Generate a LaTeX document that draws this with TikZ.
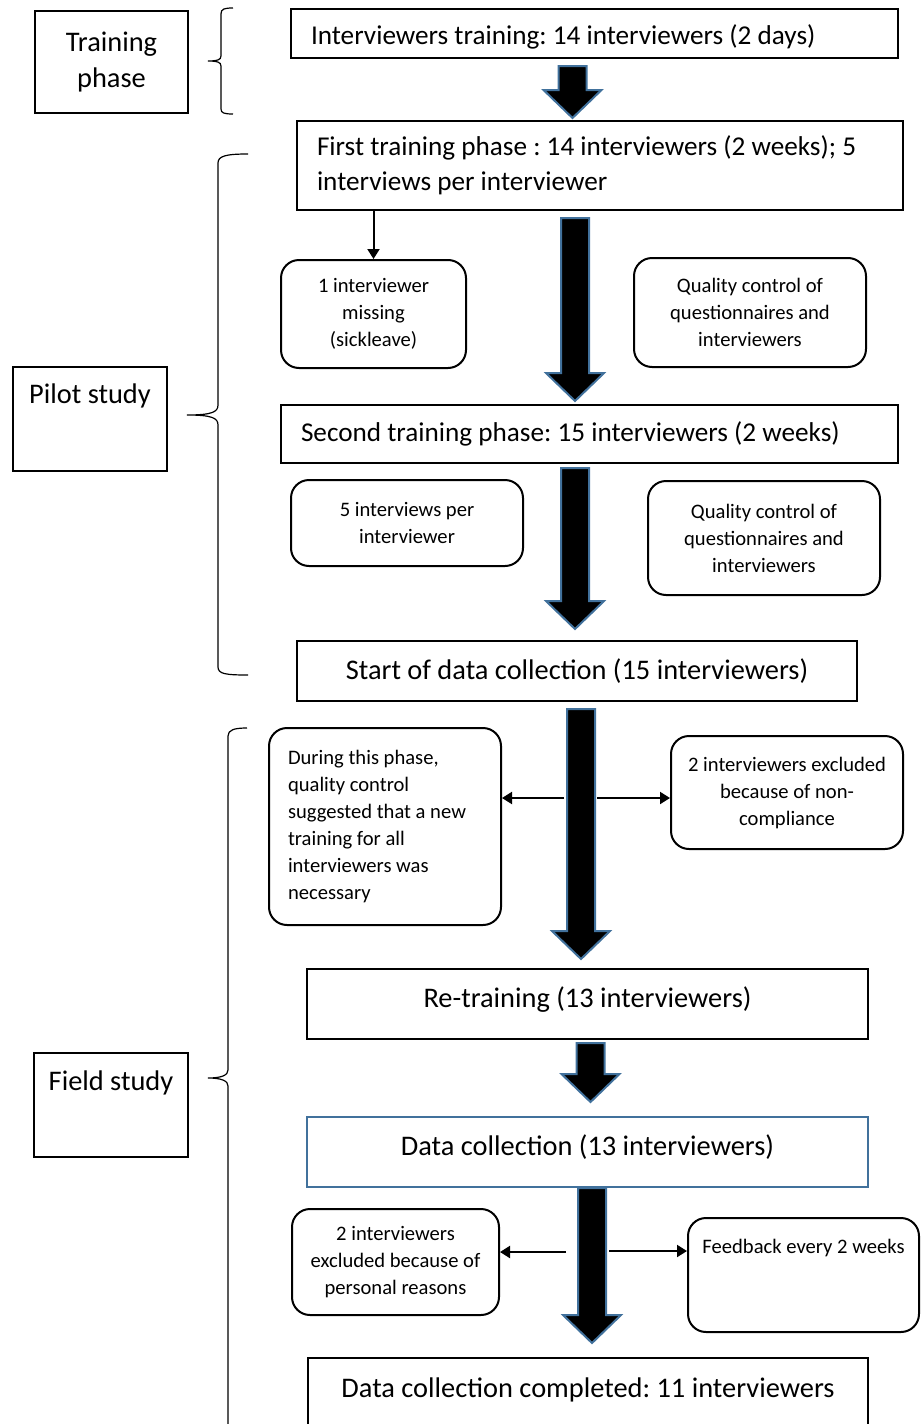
\documentclass[tikz,border=0pt]{standalone}
\usepackage{fontspec}
\setmainfont{Carlito}
\frenchspacing
\usetikzlibrary{arrows.meta}
\usetikzlibrary{calc}
\definecolor{rahmenblau}{RGB}{65,113,156}

\begin{document}
\begin{tikzpicture}[x=0.5pt, y=-0.5pt, % 1 Einheit = 1 Pixel, y nach unten
  box/.style={draw, line width=1pt, inner sep=0pt},
  mittel/.style={font=\fontsize{13.6}{17.5}\selectfont},
  gross/.style={font=\fontsize{14.2}{18}\selectfont},
  rbox/.style={box, rounded corners=9pt, align=center, font=\fontsize{10.3}{13.5}\selectfont},
  duenn/.style={line width=1pt, -{Triangle[length=5pt, width=6pt]}},
  klammer/.style={line width=0.6pt},
  blockpfeil/.style={fill=black, draw=rahmenblau, line width=1pt, line join=miter}]

\useasboundingbox (0,0) rectangle (921,1424);
\clip (0,0) rectangle (921,1424);

% Phasen links
\node[box, gross, align=center, minimum width=76.5pt, minimum height=51pt] (training) at (111.5,62) {Training\\phase};
\node[box, gross, minimum width=77pt, text height=18.2pt, text depth=33.8pt, anchor=north] (pilot) at (90,366) {Pilot study};
\node[box, gross, minimum width=77pt, text height=18.7pt, text depth=33.3pt, anchor=north] (field) at (111,1052) {Field study};

% Klammern
\draw[klammer] (233,8) .. controls (224,8) and (221,9) .. (221,14) -- (221,56) .. controls (221,60) and (217,61) .. (208,61) .. controls (217,61) and (221,62) .. (221,66) -- (221,109) .. controls (221,113) and (224,114) .. (233,114);
\draw[klammer] (248,154) .. controls (226,154) and (218,156) .. (218,163) -- (218,405) .. controls (218,412) and (212,415) .. (187,415) .. controls (212,415) and (218,418) .. (218,425) -- (218,667) .. controls (218,674) and (226,675) .. (248,675);
\draw[klammer] (247,728) .. controls (234,728) and (228,730) .. (228,736) -- (228,1070) .. controls (228,1075) and (222,1078) .. (208,1078) .. controls (222,1078) and (228,1081) .. (228,1086) -- (228,1440);

% Hauptkasten
\node[box, mittel, minimum width=303.5pt, text height=17.8pt, text depth=6.7pt, text width=283.5pt, align=flush left, anchor=north] (b1) at (594.5,8) {Interviewers training: 14 interviewers (2 days)};
\node[box, mittel, minimum width=303pt, minimum height=44.5pt, text width=283pt, align=flush left] (b2) at (600,165.5) {First training phase : 14 interviewers (2 weeks); 5\\interviews per interviewer};
\node[box, mittel, minimum width=308.5pt, minimum height=29pt, text width=288.5pt, align=flush left] (b3) at (589.5,434) {Second training phase: 15 interviewers (2 weeks)};
\node[box, gross, minimum width=280pt, minimum height=30pt] (b4) at (577,671) {Start of data collection (15 interviewers)};
\node[box, gross, minimum width=280.5pt, text height=19.2pt, text depth=15.8pt, anchor=north] (b5) at (587.5,968) {Re-training (13 interviewers)};
\node[box, gross, draw=rahmenblau, minimum width=280.5pt, text height=19.2pt, text depth=15.8pt, anchor=north] (b6) at (587.5,1116) {Data collection (13 interviewers)};
\node[box, gross, minimum width=280pt, text height=19.7pt, text depth=29.3pt, anchor=north] (b7) at (588,1357) {Data collection completed: 11 interviewers};

% Nebenkasten
\node[rbox, minimum width=92.5pt, minimum height=54pt] (r1) at (373.5,314) {1 interviewer\\missing\\(sickleave)};
\node[rbox, minimum width=116pt, minimum height=54.5pt] (q1) at (750,312.5) {Quality control of\\questionnaires and\\interviewers};
\node[rbox, minimum width=116pt, minimum height=43pt] (r2) at (407,523) {5 interviews per\\interviewer};
\node[rbox, minimum width=116pt, minimum height=57pt] (q2) at (764,538) {Quality control of\\questionnaires and\\interviewers};
\node[rbox, align=flush left, text width=97pt, minimum width=116pt, minimum height=98.5pt] (r3) at (385,826.5) {During this phase,\\quality control\\suggested that a new\\training for all\\interviewers was\\necessary};
\node[rbox, minimum width=116pt, minimum height=56.5pt] (r4) at (787,792.5) {2 interviewers excluded\\because of non-\\compliance};
\node[rbox, minimum width=103.5pt, minimum height=53pt] (r5) at (395.5,1262) {2 interviewers\\excluded because of\\personal reasons};
\node[rbox, minimum width=115.5pt, text height=17.9pt, text depth=39.1pt, anchor=north] (r6) at (803.5,1217) {Feedback every 2 weeks};

% Blockpfeile zwischen den Hauptkasten
\foreach \von/\nach/\xm/\go/\gu in {b1/b2/572.5/7/2, b2/b3/575/7/3, b3/b4/575/4/11, b4/b5/581/7/9, b5/b6/590.5/3/14, b6/b7/592/0/14} {
  \coordinate (o) at ($(\xm,0 |- \von.south)+(0,\go)$);
  \coordinate (u) at ($(\xm,0 |- \nach.north)+(0,-\gu)$);
  \draw[blockpfeil] ($(o)+(-14,0)$) -- ($(o)+(14,0)$) -- ($(u)+(14,-28)$) -- ($(u)+(29,-28)$) -- (u) -- ($(u)+(-29,-28)$) -- ($(u)+(-14,-28)$) -- cycle;
}

% duenne Pfeile
\draw[duenn] (b2.south -| r1.north) -- (r1.north);
\coordinate (m4l) at (564,798);
\coordinate (m4r) at (597,798);
\draw[duenn] (m4l) -- (m4l -| r3.east);
\draw[duenn] (m4r) -- (m4r -| r4.west);
\coordinate (m6l) at (566,1252);
\coordinate (m6r) at (609,1251);
\draw[duenn] (m6l) -- (m6l -| r5.east);
\draw[duenn] (m6r) -- (m6r -| r6.west);

\end{tikzpicture}
\end{document}
